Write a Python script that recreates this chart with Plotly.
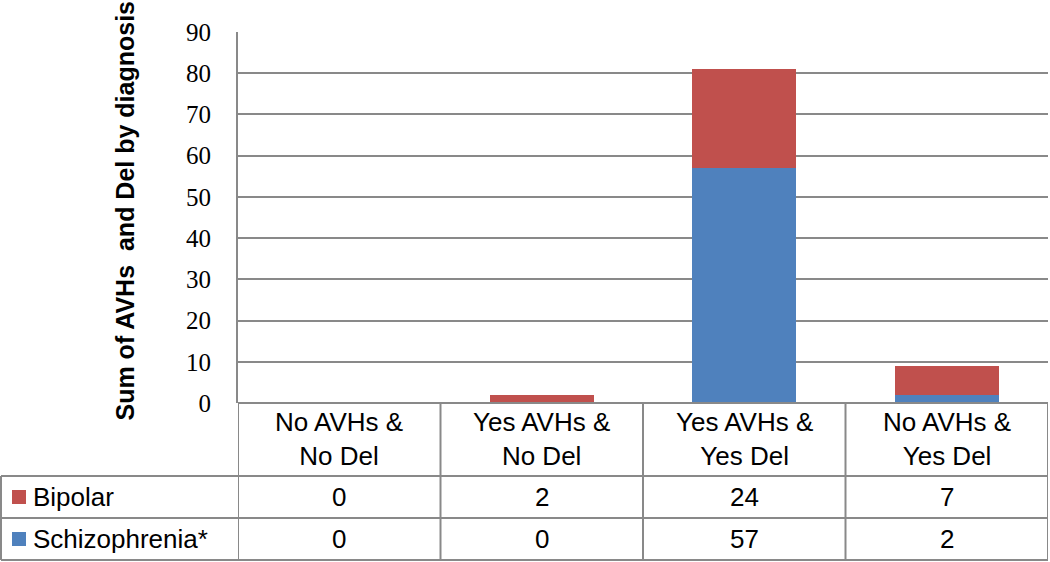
import plotly.graph_objects as go

categories = ["No AVHs &<br>No Del", "Yes AVHs &<br>No Del", "Yes AVHs &<br>Yes Del", "No AVHs &<br>Yes Del"]
series_names = ["Bipolar", "Schizophrenia*"]
bipolar = [0, 2, 24, 7]
schizophrenia = [0, 0, 57, 2]
y_ticks = [0, 10, 20, 30, 40, 50, 60, 70, 80, 90]
y_title = "Sum of AVHs \u00a0and Del by diagnosis"

RED = "#C0504D"
BLUE = "#4F81BD"
GRID = "#898989"

W, H = 1050, 562
L, R, T, B = 238, 2, 32, 159
PW = W - L - R
PH = H - T - B


def px(x):
    return (x - L) / PW


def py(y):
    return (T + PH - y) / PH


xs = list(range(len(categories)))

fig = go.Figure()
fig.add_trace(go.Bar(x=xs, y=schizophrenia, name=series_names[1], marker=dict(color=BLUE, line=dict(width=0)), width=0.515))
fig.add_trace(go.Bar(x=xs, y=bipolar, name=series_names[0], marker=dict(color=RED, line=dict(width=0)), width=0.515))

shapes = []
line_style = dict(color=GRID, width=2)
# horizontal table lines
shapes.append(dict(type="line", xref="paper", yref="paper", x0=px(238), x1=px(1048), y0=py(403), y1=py(403), line=line_style))
for yy in [476, 518, 560]:
    shapes.append(dict(type="line", xref="paper", yref="paper", x0=px(1), x1=px(1048), y0=py(yy), y1=py(yy), line=line_style))
# vertical table lines at category boundaries
for i in range(len(categories) + 1):
    shapes.append(dict(type="line", xref="x", yref="paper", x0=i - 0.5, x1=i - 0.5, y0=py(403), y1=py(560), line=line_style))
# left border of legend column
shapes.append(dict(type="line", xref="paper", yref="paper", x0=px(1), x1=px(1), y0=py(476), y1=py(560), line=line_style))

annotations = []
font_tbl = dict(family="Liberation Sans, Arial", size=26, color="black")
row_y = [py(497), py(539)]
for i, c in enumerate(categories):
    annotations.append(dict(x=i, y=py(439), xref="x", yref="paper", text=c, showarrow=False,
                            xanchor="center", yanchor="middle", font=font_tbl, align="center"))
    annotations.append(dict(x=i, y=row_y[0], xref="x", yref="paper", text=str(bipolar[i]), showarrow=False,
                            xanchor="center", yanchor="middle", font=font_tbl))
    annotations.append(dict(x=i, y=row_y[1], xref="x", yref="paper", text=str(schizophrenia[i]), showarrow=False,
                            xanchor="center", yanchor="middle", font=font_tbl))

# legend keys in table
for name, color, ry in [(series_names[0], RED, 497), (series_names[1], BLUE, 539)]:
    shapes.append(dict(type="rect", xref="paper", yref="paper", x0=px(12), x1=px(26), y0=py(ry + 7), y1=py(ry - 7),
                       fillcolor=color, line=dict(width=0)))
    annotations.append(dict(x=px(31), y=py(ry), xref="paper", yref="paper", text=name, showarrow=False,
                            xanchor="left", yanchor="middle", font=font_tbl))

annotations.append(dict(x=px(124), y=py(210.5), xref="paper", yref="paper", text="<b>" + y_title + "</b>",
                        textangle=-90, showarrow=False, xanchor="center", yanchor="middle",
                        font=dict(family="Liberation Sans, Arial", size=25, color="black")))

fig.update_layout(
    width=W, height=H,
    margin=dict(l=L, r=R, t=T, b=B, pad=0),
    barmode="stack",
    plot_bgcolor="white", paper_bgcolor="white",
    showlegend=False,
    shapes=shapes,
    annotations=annotations,
    xaxis=dict(range=[-0.5, len(categories) - 0.5], showticklabels=False, showgrid=False, zeroline=False,
               showline=False, fixedrange=True),
    yaxis=dict(range=[0, 90], tickvals=y_ticks, showgrid=True, gridcolor=GRID, gridwidth=2, zeroline=False,
               showline=True, linecolor=GRID, linewidth=2, ticks="outside", ticklen=20,
               tickcolor="rgba(0,0,0,0)",
               tickfont=dict(family="Liberation Serif, Times New Roman", size=25, color="black")),
)

fig.write_html("out.html", config={"displayModeBar": False},
               post_script="document.body.style.margin='0';")
